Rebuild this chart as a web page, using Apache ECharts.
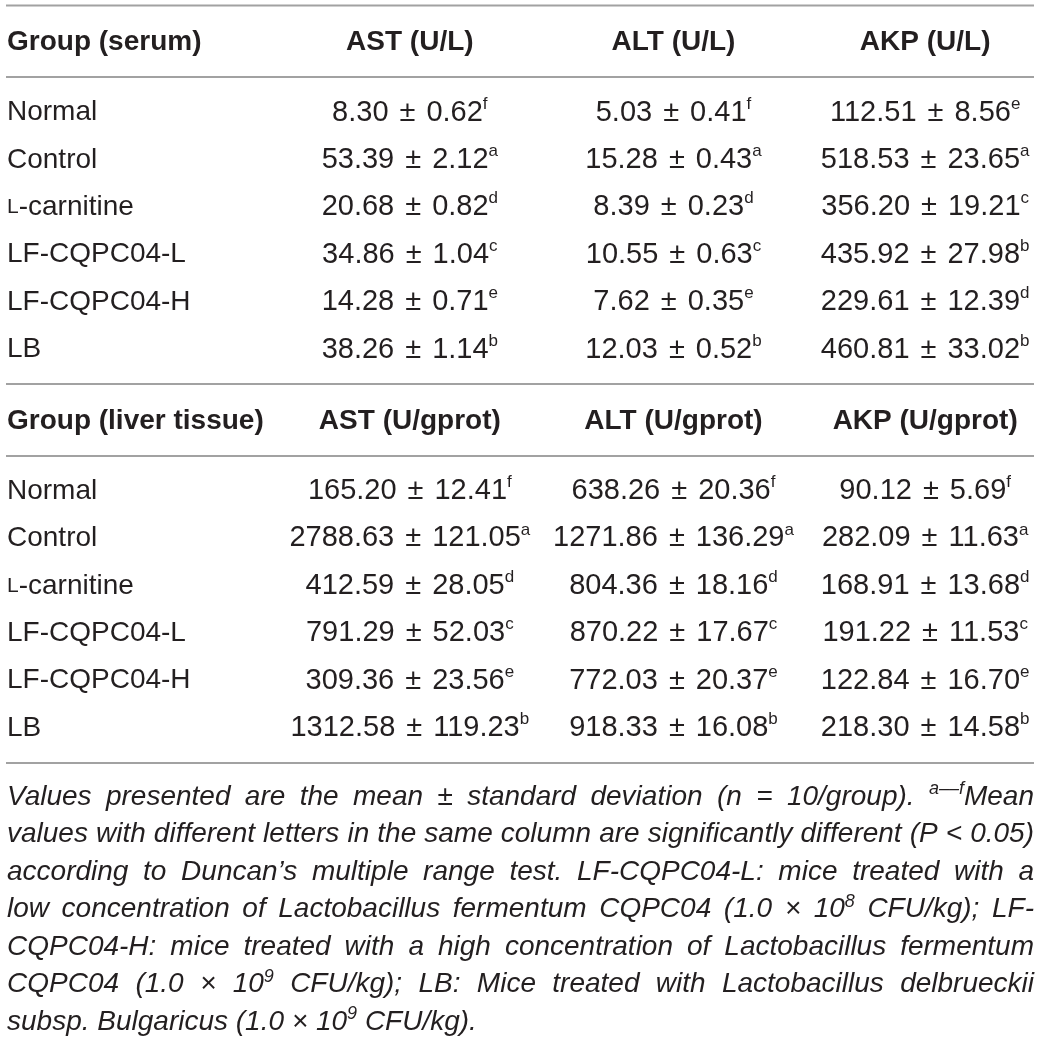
<!DOCTYPE html>
<html>
<head>
<meta charset="utf-8">
<script src="https://cdn.jsdelivr.net/npm/echarts@6/dist/echarts.min.js"></script>
<style>
html,body{margin:0;padding:0;background:#ffffff;}
#chart{width:1040px;height:1042px;}
</style>
</head>
<body>
<div id="chart"></div>
<script>
// ---------------- DATA ----------------
const groups = ['Normal', 'Control', 'L-carnitine', 'LF-CQPC04-L', 'LF-CQPC04-H', 'LB'];

const serumTitle = 'Group (serum)';
const serumHeaders = ['AST (U/L)', 'ALT (U/L)', 'AKP (U/L)'];
const liverTitle = 'Group (liver tissue)';
const liverHeaders = ['AST (U/gprot)', 'ALT (U/gprot)', 'AKP (U/gprot)'];

const serumASTMean = [8.30, 53.39, 20.68, 34.86, 14.28, 38.26];
const serumASTSd   = [0.62, 2.12, 0.82, 1.04, 0.71, 1.14];
const serumASTSig  = ['f', 'a', 'd', 'c', 'e', 'b'];

const serumALTMean = [5.03, 15.28, 8.39, 10.55, 7.62, 12.03];
const serumALTSd   = [0.41, 0.43, 0.23, 0.63, 0.35, 0.52];
const serumALTSig  = ['f', 'a', 'd', 'c', 'e', 'b'];

const serumAKPMean = [112.51, 518.53, 356.20, 435.92, 229.61, 460.81];
const serumAKPSd   = [8.56, 23.65, 19.21, 27.98, 12.39, 33.02];
const serumAKPSig  = ['e', 'a', 'c', 'b', 'd', 'b'];

const liverASTMean = [165.20, 2788.63, 412.59, 791.29, 309.36, 1312.58];
const liverASTSd   = [12.41, 121.05, 28.05, 52.03, 23.56, 119.23];
const liverASTSig  = ['f', 'a', 'd', 'c', 'e', 'b'];

const liverALTMean = [638.26, 1271.86, 804.36, 870.22, 772.03, 918.33];
const liverALTSd   = [20.36, 136.29, 18.16, 17.67, 20.37, 16.08];
const liverALTSig  = ['f', 'a', 'd', 'c', 'e', 'b'];

const liverAKPMean = [90.12, 282.09, 168.91, 191.22, 122.84, 218.30];
const liverAKPSd   = [5.69, 11.63, 13.68, 11.53, 16.70, 14.58];
const liverAKPSig  = ['f', 'a', 'd', 'c', 'e', 'b'];

const footnoteLines = [
  'Values presented are the mean \u00b1 standard deviation (n = 10/group). ^{a\u2013\u2013f}Mean',
  'values with different letters in the same column are significantly different (P < 0.05)',
  'according to Duncan\u2019s multiple range test. LF-CQPC04-L: mice treated with a',
  'low concentration of Lactobacillus fermentum CQPC04 (1.0 \u00d7 10^{8} CFU/kg); LF-',
  'CQPC04-H: mice treated with a high concentration of Lactobacillus fermentum',
  'CQPC04 (1.0 \u00d7 10^{9} CFU/kg); LB: Mice treated with Lactobacillus delbrueckii',
  'subsp. Bulgaricus (1.0 \u00d7 10^{9} CFU/kg).'
];

// ---------------- STYLE / LAYOUT ----------------
const FONT = '"Liberation Sans", Arial, Helvetica, sans-serif';
const INK = '#231f20';
const RULE = '#a2a2a2';
const BODY = 28;
const VAL = 29;
const SUP = 17;
const FN = 28;
const FN_SUP = 18;
const LAY = {
  gridLeft: 281, gridWidth: 773, rowStep: 47.4,
  firstRow: [112.5, 491], headerY: [42, 421],
  rules: [5.5, 77, 384, 456, 763], ruleX: [6, 1034],
  textX: 7, colOffset: [0, 6, 0],
  fnTop: 797, fnStep: 37.5
};

const blocks = [
  { title: serumTitle, headers: serumHeaders,
    cols: [[serumASTMean, serumASTSd, serumASTSig], [serumALTMean, serumALTSd, serumALTSig], [serumAKPMean, serumAKPSd, serumAKPSig]] },
  { title: liverTitle, headers: liverHeaders,
    cols: [[liverASTMean, liverASTSd, liverASTSig], [liverALTMean, liverALTSd, liverALTSig], [liverAKPMean, liverAKPSd, liverAKPSig]] }
];

const grids = [], xAxes = [], yAxes = [], series = [];
blocks.forEach((b, bi) => {
  const top = LAY.firstRow[bi] - LAY.rowStep / 2;
  grids.push({ left: LAY.gridLeft, width: LAY.gridWidth, top: top, height: LAY.rowStep * groups.length,
    containLabel: false, outerBoundsMode: 'none', show: false });
  xAxes.push({
    type: 'category', gridIndex: bi, position: 'top', data: b.headers,
    axisLine: { show: false }, axisTick: { show: false }, splitLine: { show: false },
    axisLabel: {
      interval: 0, margin: top - LAY.headerY[bi], verticalAlign: 'middle',
      formatter: (v, idx) => (idx === 1 ? '{m|' + v + '}' : '{h|' + v + '}'),
      rich: {
        h: { fontSize: BODY, fontWeight: 'bold', fontFamily: FONT, color: INK },
        m: { fontSize: BODY, fontWeight: 'bold', fontFamily: FONT, color: INK, padding: [0, 0, 0, 2 * LAY.colOffset[1]] }
      }
    }
  });
  yAxes.push({
    type: 'category', gridIndex: bi, inverse: true, data: groups,
    axisLine: { show: false }, axisTick: { show: false }, splitLine: { show: false },
    axisLabel: {
      interval: 0, align: 'left', margin: LAY.gridLeft - LAY.textX,
      formatter: v => (v.indexOf('L-c') === 0 ? '{sc|L}{n|' + v.slice(1) + '}' : '{n|' + v + '}'),
      rich: {
        n: { fontSize: BODY, lineHeight: 34, fontFamily: FONT, color: INK },
        sc: { fontSize: 21, lineHeight: 34, fontFamily: FONT, color: INK }
      }
    }
  });
  b.cols.forEach((c, ci) => {
    const [mean, sd, sig] = c;
    series.push({
      type: 'scatter', xAxisIndex: bi, yAxisIndex: bi, silent: true,
      symbolSize: 1, itemStyle: { color: 'rgba(255,255,255,0)', opacity: 1 },
      emphasis: { disabled: true },
      data: groups.map((g, i) => ({ value: [b.headers[ci], g], m: mean[i], s: sd[i], g: sig[i] })),
      label: {
        show: true, position: 'inside', offset: [LAY.colOffset[ci], 0], opacity: 1,
        formatter: p => '{v|' + p.data.m.toFixed(2) + '}{pm|\u00b1}{v|' + p.data.s.toFixed(2) + '}{s|' + p.data.g + '}',
        rich: {
          v: { fontSize: VAL, lineHeight: 34, fontFamily: FONT, color: INK },
          pm: { fontSize: VAL, lineHeight: 34, fontFamily: FONT, color: INK, padding: [0, 11, 0, 11] },
          s: { fontSize: SUP, lineHeight: 18, verticalAlign: 'top', fontFamily: FONT, color: INK }
        }
      }
    });
  });
});

// ---------------- GRAPHIC: rules, titles, footnote ----------------
const graphics = [];
LAY.rules.forEach(y => graphics.push({
  type: 'line', silent: true,
  shape: { x1: LAY.ruleX[0], y1: y, x2: LAY.ruleX[1], y2: y },
  style: { stroke: RULE, lineWidth: 2 }
}));
blocks.forEach((b, bi) => graphics.push({
  type: 'text', silent: true, x: LAY.textX, y: LAY.headerY[bi],
  style: { text: b.title, fontSize: BODY, fontWeight: 'bold', fontFamily: FONT, fill: INK,
           align: 'left', textAlign: 'left', verticalAlign: 'middle', textVerticalAlign: 'middle' }
}));

const cv = document.createElement('canvas').getContext('2d');
function measure(t, size) { cv.font = 'italic ' + size + 'px ' + FONT; return cv.measureText(t).width; }
function parseWord(w) {
  const segs = []; const re = /\^\{([^}]*)\}/g; let last = 0, m;
  while ((m = re.exec(w))) {
    if (m.index > last) segs.push({ t: w.slice(last, m.index), sup: false });
    segs.push({ t: m[1], sup: true }); last = re.lastIndex;
  }
  if (last < w.length) segs.push({ t: w.slice(last), sup: false });
  segs.forEach(s => { s.w = measure(s.t, s.sup ? FN_SUP : FN); });
  return { segs, w: segs.reduce((a, s) => a + s.w, 0) };
}
const lineW = LAY.ruleX[1] - LAY.textX;
footnoteLines.forEach((line, li) => {
  const words = line.split(' ').map(parseWord);
  const total = words.reduce((a, w) => a + w.w, 0);
  const justify = li < footnoteLines.length - 1 && words.length > 1;
  const gap = justify ? (lineW - total) / (words.length - 1) : measure(' ', FN);
  const yc = LAY.fnTop + li * LAY.fnStep;
  let x = LAY.textX;
  words.forEach(w => {
    w.segs.forEach(s => {
      graphics.push({
        type: 'text', silent: true, x: x, y: s.sup ? yc - 8 : yc,
        style: { text: s.t, fontSize: s.sup ? FN_SUP : FN, fontStyle: 'italic', fontFamily: FONT, fill: INK,
                 align: 'left', textAlign: 'left', verticalAlign: 'middle', textVerticalAlign: 'middle' }
      });
      x += s.w;
    });
    x += gap;
  });
});

const chart = echarts.init(document.getElementById('chart'), null, { renderer: 'canvas' });
chart.setOption({
  backgroundColor: '#ffffff',
  animation: false,
  tooltip: { show: false },
  grid: grids, xAxis: xAxes, yAxis: yAxes, series: series,
  graphic: { elements: graphics }
});
</script>
</body>
</html>
